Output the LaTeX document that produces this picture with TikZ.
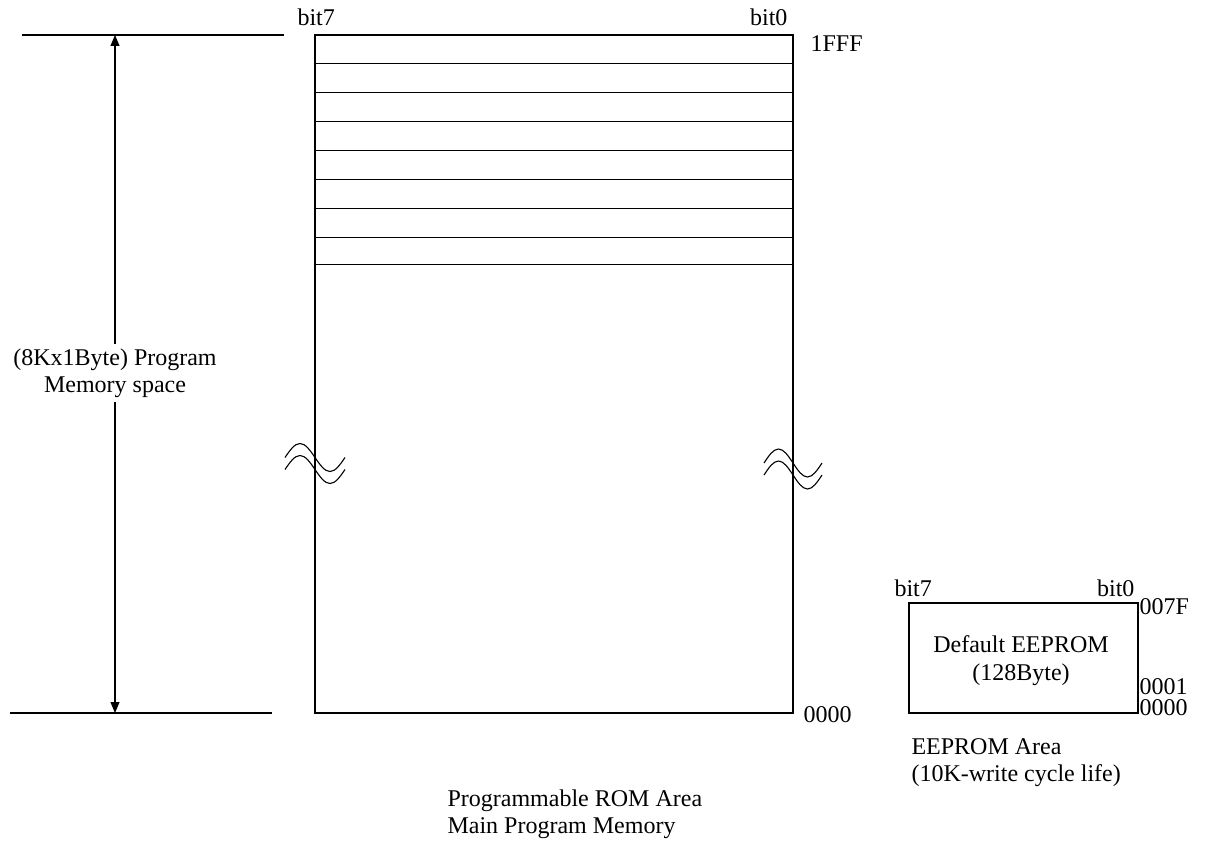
\documentclass[tikz,border=0pt]{standalone}
\usepackage{fontspec}
\setmainfont{Liberation Serif}
\usetikzlibrary{arrows.meta}
\begin{document}
\begin{tikzpicture}[x=1pt,y=-1pt,line width=1.1pt,
  lbl/.style={inner sep=0pt,font=\fontsize{24}{27}\selectfont},
  mem/.style={draw,line width=1.1pt,inner sep=0pt},
  wave/.style={line width=1.1pt},
  dim/.style={line width=1.1pt,{Triangle[width=9pt,length=11pt]}-{Triangle[width=9pt,length=11pt]}}]
\useasboundingbox (0,0) rectangle (1206,842);
% main program memory
\node[mem,minimum width=478pt,minimum height=678pt] (rom) at (554,374) {};
\foreach \y in {63.3,92.3,121.3,150.3,179.3,208.7,237.7,264.3}
  \draw (315,\y) -- (793,\y);
% break marks
\draw[wave] (285,457.5) sin (300,443.5) cos (315,457.5) sin (330,471.5) cos (345,457.5);
\draw[wave] (285,469.5) sin (300,455.5) cos (315,469.5) sin (330,483.5) cos (345,469.5);
\draw[wave] (764,463) sin (778.5,449) cos (793,463) sin (807.5,477) cos (822,463);
\draw[wave] (764,475) sin (778.5,461) cos (793,475) sin (807.5,489) cos (822,475);
% labels of ROM
\node[lbl,anchor=base west] (b7) at (297,26) {bit7};
\node[lbl,anchor=base east] (b0) at (788,26) {bit0};
\node[lbl,anchor=base west] (a1fff) at (810,52) {1FFF};
\node[lbl,anchor=base west] (a0000) at (803,722) {0000};
% dimension
\coordinate (t1) at (22,35);
\coordinate (t2) at (284,35);
\coordinate (u1) at (10,713);
\coordinate (u2) at (272,713);
\draw (t1) -- (t2);
\draw (u1) -- (u2);
\coordinate (dt) at (115,35);
\coordinate (db) at (115,713);
\draw[dim] (dt) -- (db);
\node[lbl,fill=white,align=center,inner xsep=2pt,inner ysep=5pt,anchor=north] (size) at (115,343) {(8Kx1Byte) Program\\Memory space};
% EEPROM
\node[mem,minimum width=229pt,minimum height=110pt] (ee) at (1023.5,658) {};
\node[lbl,anchor=base] (ee1) at (1021,652) {Default EEPROM};
\node[lbl,anchor=base] (ee2) at (1021,680) {(128Byte)};
\node[lbl,anchor=base west] (eb7) at (894,596) {bit7};
\node[lbl,anchor=base east] (eb0) at (1135,596) {bit0};
\node[lbl,anchor=base west] (e7f) at (1139,614) {007F};
\node[lbl,anchor=base west] (e01) at (1139,694) {0001};
\node[lbl,anchor=base west] (e00) at (1139,715) {0000};
% captions
\node[lbl,anchor=base west] (c1) at (911,754) {EEPROM Area};
\node[lbl,anchor=base west] (c2) at (911,781) {(10K-write cycle life)};
\node[lbl,anchor=base west] (c3) at (447,806) {Programmable ROM Area};
\node[lbl,anchor=base west] (c4) at (447,833) {Main Program Memory};
\end{tikzpicture}
\end{document}
